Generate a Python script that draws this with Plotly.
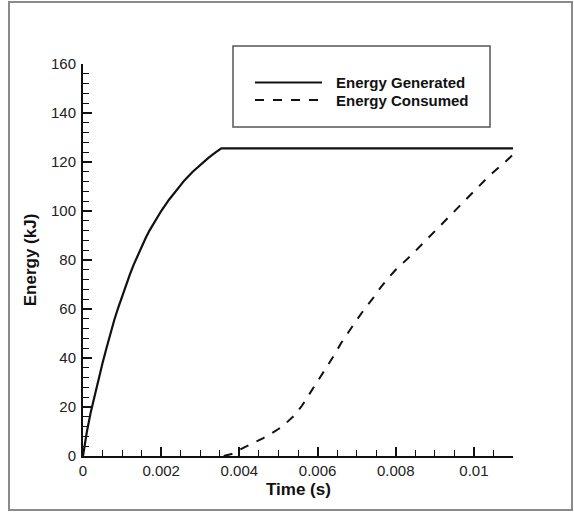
import plotly.graph_objects as go

# ---- data ----
t_generated = [0, 0.00005, 0.0001, 0.0002, 0.0003, 0.0004, 0.0005, 0.0006, 0.0007,
               0.0008, 0.0009, 0.001, 0.0011, 0.0012, 0.0013, 0.0014, 0.0015, 0.0016,
               0.0017, 0.0018, 0.0019, 0.002, 0.0022, 0.0024, 0.0026, 0.0028, 0.003,
               0.0032, 0.0034, 0.00354, 0.011]
e_generated = [0, 5.5, 10, 18, 25, 31.5, 38, 44, 50, 55.5, 60.5, 65.2, 69.8, 74.1, 78.2,
               82, 85.7, 88.9, 92, 94.8, 97.4, 100, 104.6, 108.8, 112.6, 115.9, 118.9,
               121.6, 124, 125.6, 125.6]

t_consumed = [0.0036, 0.0038, 0.004, 0.0042, 0.0044, 0.0046, 0.0048, 0.005, 0.0052,
              0.0054, 0.0056, 0.0058, 0.006, 0.0062, 0.0064, 0.0066, 0.0068, 0.007,
              0.0072, 0.0074, 0.0076, 0.0078, 0.008, 0.0084, 0.0088, 0.0092, 0.0096,
              0.01, 0.0104, 0.0108, 0.011]
e_consumed = [0, 0.8, 2.5, 4, 5.5, 7.2, 9, 11, 13.5, 16.5, 20.5, 25.5, 30, 35, 40.5, 46,
              51, 55.5, 60, 64, 68.5, 72.5, 76, 82, 88.5, 95, 101.5, 108, 114.5, 120, 123]

x_tickvals = [0, 0.002, 0.004, 0.006, 0.008, 0.01]
x_ticktext = ["0", "0.002", "0.004", "0.006", "0.008", "0.01"]
y_tickvals = [0, 20, 40, 60, 80, 100, 120, 140, 160]
y_ticktext = ["0", "20", "40", "60", "80", "100", "120", "140", "160"]

series_names = ["Energy Generated", "Energy Consumed"]
x_title = "Time (s)"
y_title = "Energy (kJ)"

FONT = "Liberation Sans, Arial, sans-serif"
INK = "#111111"

fig = go.Figure()
fig.add_trace(go.Scatter(x=t_generated, y=e_generated, mode="lines", name=series_names[0],
                         line=dict(color=INK, width=2.2), showlegend=False))
fig.add_trace(go.Scatter(x=t_consumed, y=e_consumed, mode="lines", name=series_names[1],
                         line=dict(color=INK, width=2, dash="9px,9px"), showlegend=False))

L, R, T, B = 83, 61, 64, 56
W, H = 574, 512
PW, PH = W - L - R, H - T - B


def px(x):
    return (x - L) / PW


def py(y):
    return (H - B - y) / PH


shapes = []
# outer gray frame
shapes.append(dict(type="rect", xref="paper", yref="paper",
                   x0=px(9), x1=px(572), y0=py(510), y1=py(2),
                   line=dict(color="#8a8a8a", width=2), layer="below"))
# legend box
shapes.append(dict(type="rect", xref="paper", yref="paper",
                   x0=px(233), x1=px(490), y0=py(127), y1=py(46),
                   line=dict(color="#555555", width=1.5)))
# legend samples
shapes.append(dict(type="line", xref="paper", yref="paper",
                   x0=px(255), x1=px(322), y0=py(82.5), y1=py(82.5),
                   line=dict(color=INK, width=2)))
shapes.append(dict(type="line", xref="paper", yref="paper",
                   x0=px(255), x1=px(322), y0=py(100), y1=py(100),
                   line=dict(color=INK, width=2, dash="9px,9px")))

annotations = [
    dict(xref="paper", yref="paper", x=px(334), y=py(82.5), xanchor="left", yanchor="middle",
         text="<b>" + series_names[0] + "</b>", showarrow=False,
         font=dict(family=FONT, size=15, color=INK)),
    dict(xref="paper", yref="paper", x=px(334), y=py(100), xanchor="left", yanchor="middle",
         text="<b>" + series_names[1] + "</b>", showarrow=False,
         font=dict(family=FONT, size=15, color=INK)),
    # x-axis title
    dict(xref="paper", yref="paper", x=0.5, y=py(478), xanchor="center", yanchor="top",
         text="<b>" + x_title + "</b>", showarrow=False,
         font=dict(family=FONT, size=17, color=INK)),
]

fig.update_layout(
    width=W, height=H,
    margin=dict(l=L, r=R, t=T, b=B, pad=0),
    paper_bgcolor="white", plot_bgcolor="white",
    font=dict(family=FONT, color="#222222"),
    shapes=shapes, annotations=annotations,
    showlegend=False,
)

fig.update_xaxes(
    range=[0, 0.011], showgrid=False, zeroline=False,
    showline=True, linecolor=INK, linewidth=2,
    tickmode="array", tickvals=x_tickvals, ticktext=x_ticktext,
    ticks="inside", ticklen=9, tickwidth=1.5, tickcolor=INK,
    tickfont=dict(family=FONT, size=15, color="#222222"),
    ticklabelstandoff=0,
    minor=dict(dtick=0.0005, ticks="inside", ticklen=6, tickwidth=1, tickcolor=INK, showgrid=False),
)
fig.update_yaxes(
    range=[0, 160], showgrid=False, zeroline=False,
    showline=True, linecolor=INK, linewidth=2,
    tickmode="array", tickvals=y_tickvals, ticktext=y_ticktext,
    ticks="inside", ticklen=9, tickwidth=1.5, tickcolor=INK,
    tickfont=dict(family=FONT, size=15, color="#222222"),
    ticklabelstandoff=2,
    minor=dict(dtick=4, ticks="inside", ticklen=6, tickwidth=1, tickcolor=INK, showgrid=False),
    title=dict(text="<b>" + y_title + "</b>", font=dict(family=FONT, size=17, color=INK), standoff=10),
)

fig.write_html("out.html")
